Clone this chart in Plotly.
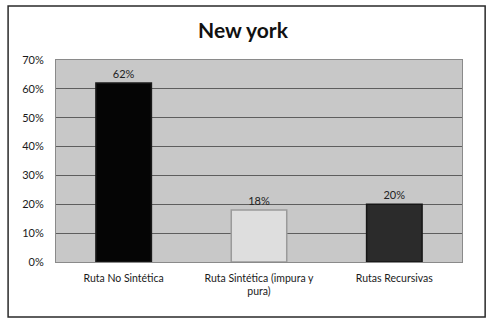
import plotly.graph_objects as go

categories = ["Ruta No Sintética", "Ruta Sintética (impura y<br>pura)", "Rutas Recursivas"]
values = [0.62, 0.18, 0.20]
bar_colors = ["#050505", "#dedede", "#2b2b2b"]
edge_colors = ["#1a1a1a", "#9a9a9a", "#161616"]

FONT = "Lato, 'Open Sans', sans-serif"

fig = go.Figure(
    go.Bar(
        x=categories, y=values,
        marker=dict(color=bar_colors, line=dict(color=edge_colors, width=1.5)),
        texttemplate="%{y:.0%}", textposition="outside",
        textfont=dict(size=11, color="#222222", family=FONT),
        cliponaxis=False, width=0.41,
    )
)

fig.update_layout(
    width=486, height=320,
    margin=dict(l=56, r=24, t=60, b=58),
    paper_bgcolor="white",
    plot_bgcolor="#c8c8c8",
    showlegend=False,
    font=dict(family=FONT, size=11, color="#1a1a1a"),
    title=dict(text="<b>New york</b>", x=0.5, xanchor="center", y=0.905, yanchor="middle",
               font=dict(size=21, color="#111111", family=FONT)),
    yaxis=dict(range=[0, 0.7], dtick=0.1, tickformat=".0%", showgrid=True,
               gridcolor="#5e5e5e", gridwidth=1, zeroline=False,
               showline=True, linecolor="#8a8a8a", mirror=True,
               ticklabelstandoff=9, tickfont=dict(size=11)),
    xaxis=dict(showgrid=False, showline=True, linecolor="#8a8a8a", mirror=True,
               ticklabelstandoff=6, tickfont=dict(size=10.5)),
    shapes=[
        dict(type="rect", xref="paper", yref="paper",
             x0=-0.118, x1=1.057, y0=-0.272, y1=1.267,
             line=dict(color="#2a2a2a", width=1.5), fillcolor="rgba(0,0,0,0)", layer="below"),
    ],
)

# the page body has a default 8px margin; drop it so the chart sits at (0, 0)
fig.write_html("out.html", config={"displayModeBar": False},
               post_script="document.body.style.margin='0';")
